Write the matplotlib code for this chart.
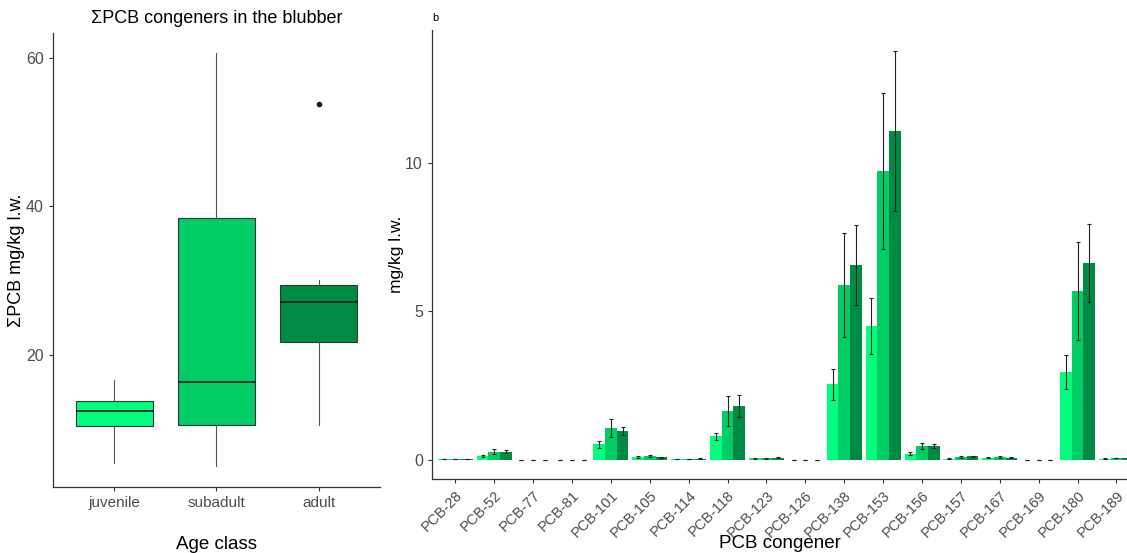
import numpy as np
import matplotlib.pyplot as plt

plt.rcParams['font.family'] = ['Liberation Sans', 'DejaVu Sans']

# --- data: panel a (box plot summary) ---
age_classes = ['juvenile', 'subadult', 'adult']
box_whislo = [5.4, 5.0, 10.6]
box_q1 = [10.4, 10.6, 21.7]
box_med = [12.5, 16.3, 27.1]
box_q3 = [13.75, 38.4, 29.4]
box_whishi = [16.6, 60.6, 30.1]
box_fliers = [[], [], [53.8]]

# --- data: panel b (mean +/- error per congener and age class) ---
congeners = ['PCB-28', 'PCB-52', 'PCB-77', 'PCB-81', 'PCB-101', 'PCB-105',
             'PCB-114', 'PCB-118', 'PCB-123', 'PCB-126', 'PCB-138', 'PCB-153',
             'PCB-156', 'PCB-157', 'PCB-167', 'PCB-169', 'PCB-180', 'PCB-189']
juvenile = [0.02, 0.13, 0.0, 0.0, 0.52, 0.10, 0.02, 0.80, 0.05, 0.0,
            2.55, 4.51, 0.20, 0.04, 0.08, 0.0, 2.96, 0.04]
subadult = [0.02, 0.28, 0.0, 0.0, 1.08, 0.12, 0.02, 1.65, 0.05, 0.0,
            5.90, 9.72, 0.48, 0.10, 0.10, 0.0, 5.68, 0.06]
adult = [0.02, 0.28, 0.0, 0.0, 0.98, 0.09, 0.04, 1.82, 0.07, 0.0,
         6.57, 11.08, 0.47, 0.12, 0.07, 0.0, 6.63, 0.07]
juvenile_err = [0.005, 0.03, 0.01, 0.005, 0.12, 0.02, 0.005, 0.12, 0.01, 0.005,
                0.52, 0.95, 0.05, 0.01, 0.02, 0.005, 0.58, 0.01]
subadult_err = [0.005, 0.08, 0.005, 0.005, 0.30, 0.03, 0.005, 0.50, 0.01, 0.005,
                1.75, 2.63, 0.10, 0.02, 0.03, 0.005, 1.65, 0.01]
adult_err = [0.005, 0.05, 0.01, 0.005, 0.14, 0.02, 0.01, 0.36, 0.02, 0.005,
             1.35, 2.70, 0.07, 0.02, 0.02, 0.005, 1.32, 0.01]

colors = ['#00FF7F', '#00CD66', '#008B45']
tick_col = '#4D4D4D'

fig = plt.figure(figsize=(11.27, 5.53), dpi=100)

# ---------------- panel a ----------------
ax1 = fig.add_axes([0.047, 0.119, 0.290, 0.821])
stats = []
for i, name in enumerate(age_classes):
    stats.append(dict(label=name, whislo=box_whislo[i], q1=box_q1[i],
                      med=box_med[i], q3=box_q3[i], whishi=box_whishi[i],
                      fliers=box_fliers[i]))
bp = ax1.bxp(stats, positions=range(3), widths=0.75, patch_artist=True,
             showcaps=False,
             boxprops=dict(edgecolor='#333333', linewidth=0.8),
             medianprops=dict(color='#1a1a1a', linewidth=1.2),
             whiskerprops=dict(color='#555555', linewidth=0.8),
             flierprops=dict(marker='o', markersize=3, markerfacecolor='#1a1a1a',
                             markeredgecolor='#1a1a1a'))
for patch, c in zip(bp['boxes'], colors):
    patch.set_facecolor(c)
ax1.set_xlim(-0.6, 2.6)
ax1.set_ylim(2.2, 63.3)
ax1.set_yticks([20, 40, 60])
ax1.set_xticks(range(3))
ax1.set_xticklabels(age_classes)
ax1.set_title('ΣPCB congeners in the blubber', fontsize=13, pad=7)
ax1.set_xlabel('Age class', fontsize=13.5)
ax1.xaxis.set_label_coords(0.5, -0.108)
ax1.set_ylabel('ΣPCB mg/kg l.w.', fontsize=13, labelpad=1)

# ---------------- panel b ----------------
ax2 = fig.add_axes([0.3833, 0.134, 0.6167, 0.812])
x = np.arange(len(congeners))
w = 0.3
series = [(juvenile, juvenile_err), (subadult, subadult_err), (adult, adult_err)]
for k, (vals, errs) in enumerate(series):
    pos = x + (k - 1) * w
    ax2.bar(pos, vals, width=w, color=colors[k], linewidth=0)
    ax2.errorbar(pos, vals, yerr=errs, fmt='none', ecolor='#222222',
                 elinewidth=0.8, capsize=1.2, capthick=0.8)
ax2.set_xlim(-0.6, 17.27)
ax2.set_ylim(-0.64, 14.48)
ax2.set_yticks([0, 5, 10])
ax2.set_xticks(x)
ax2.set_xticklabels(congeners, rotation=45, ha='right', va='top',
                    rotation_mode='anchor', fontsize=10.5)
ax2.set_xlabel('PCB congener', fontsize=13.5)
ax2.xaxis.set_label_coords(0.5, -0.126)
ax2.set_ylabel('mg/kg l.w.', fontsize=12.5, labelpad=1)
ax2.text(0.0, 1.015, 'b', transform=ax2.transAxes, fontsize=8,
         ha='left', va='bottom')

for ax in (ax1, ax2):
    for side in ('top', 'right'):
        ax.spines[side].set_visible(False)
    for side in ('left', 'bottom'):
        ax.spines[side].set_color('#333333')
        ax.spines[side].set_linewidth(0.9)
    ax.tick_params(colors='#333333', labelcolor=tick_col, length=3, width=0.8)
    ax.tick_params(axis='y', labelsize=11.5)
ax1.tick_params(axis='x', labelsize=11)

fig.savefig('out.png', dpi=100, facecolor='white')
